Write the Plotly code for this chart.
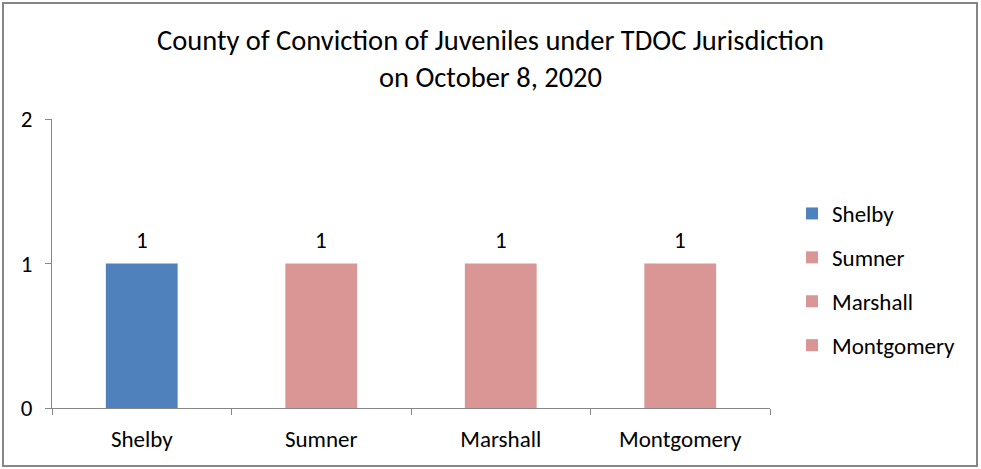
import plotly.graph_objects as go

categories = ["Shelby", "Sumner", "Marshall", "Montgomery"]
values = [1, 1, 1, 1]
colors = ["#4F81BD", "#D99694", "#D99694", "#D99694"]
y_ticks = [0, 1, 2]

FONT = "Carlito, Lato, 'Open Sans', sans-serif"

fig = go.Figure()
for c, v, col in zip(categories, values, colors):
    fig.add_trace(go.Bar(
        x=[c], y=[v], name=c, marker=dict(color=col, line=dict(width=0)),
        width=0.4, legendgroup=c,
    ))

annotations = [
    dict(x=c, y=v, xref="x", yref="y", text=str(v), showarrow=False,
         yanchor="middle", yshift=24, font=dict(size=23, family=FONT, color="#000000"))
    for c, v in zip(categories, values)
]

L, R, T, B = 52, 211, 119, 61
W, H = 981, 469
pw, ph = W - L - R, H - T - B

fig.update_layout(
    width=W, height=H,
    margin=dict(l=L, r=R, t=T, b=B),
    paper_bgcolor="white", plot_bgcolor="white",
    barmode="overlay",
    font=dict(family=FONT, size=23, color="#000000"),
    title=dict(text="County of Conviction of Juveniles under TDOC Jurisdiction<br>on October 8, 2020",
               x=0.5, xanchor="center", y=0.893, yanchor="top",
               font=dict(size=28.5, family=FONT)),
    legend=dict(x=(792 - L) / pw, xanchor="left", y=(408 - 279.5) / ph, yanchor="middle",
                font=dict(size=23), tracegroupgap=11, itemwidth=30),
    annotations=annotations,
    xaxis=dict(categoryorder="array", categoryarray=categories,
               showline=True, linecolor="#868686", linewidth=1,
               ticks="outside", ticklen=6, tickcolor="#868686",
               tickson="boundaries", showgrid=False, tickfont=dict(size=23),
               ticklabelstandoff=10),
    yaxis=dict(range=[0, 2], tickvals=y_ticks, showline=True, linecolor="#868686",
               linewidth=1, ticks="outside", ticklen=6, tickcolor="#868686",
               showgrid=False, zeroline=False, tickfont=dict(size=23),
               ticklabelstandoff=8),
    shapes=[dict(type="rect", xref="paper", yref="paper",
                 x0=(3 - L) / pw, x1=(977 - L) / pw,
                 y0=-(466 - (H - B)) / ph, y1=((H - B) - 3) / ph,
                 line=dict(color="#868686", width=2), fillcolor="rgba(0,0,0,0)", layer="below")],
)

fig.write_html("out.html", config={"displayModeBar": False},
               post_script="document.body.style.margin='0';document.body.style.padding='0';")
